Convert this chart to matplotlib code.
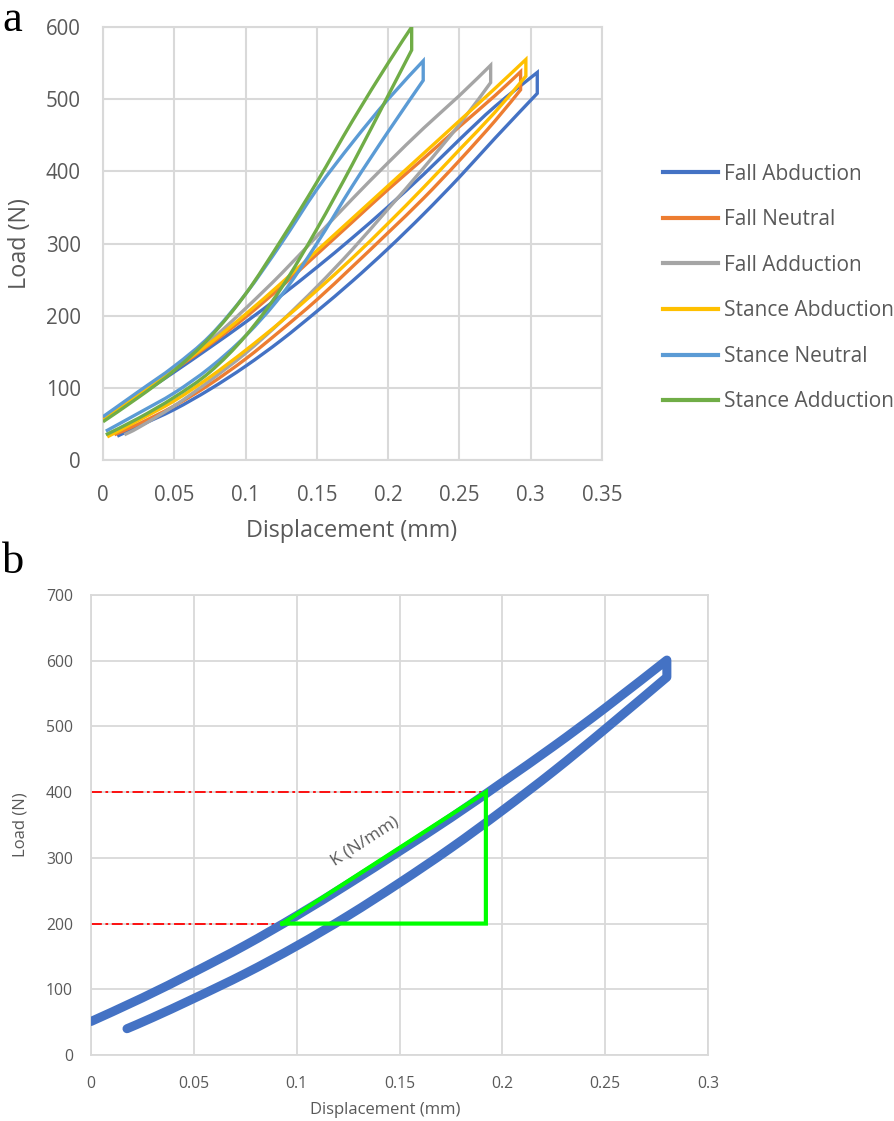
import matplotlib
matplotlib.use("Agg")
import matplotlib.pyplot as plt
from matplotlib.path import Path
from matplotlib.patches import PathPatch
from matplotlib.lines import Line2D

# ---------------- Panel a data (hysteresis loops: loading -> peak -> unloading) ----------------
series_names = ["Fall Abduction", "Fall Neutral", "Fall Adduction",
                "Stance Abduction", "Stance Neutral", "Stance Adduction"]
series_colors = ["#4472C4", "#ED7D31", "#A5A5A5", "#FFC000", "#5B9BD5", "#70AD47"]

fall_abd_x = [0.010, 0.025, 0.05, 0.075, 0.10, 0.125, 0.15, 0.175, 0.20, 0.225, 0.25, 0.275, 0.3046,
              0.3046, 0.275, 0.25, 0.225, 0.20, 0.175, 0.15, 0.125, 0.10, 0.075, 0.05, 0.025, 0.0]
fall_abd_y = [33, 47, 70, 98, 130, 166, 206, 248, 293, 341, 392, 446, 508,
              537, 490, 444, 396, 351, 308, 267, 228, 191, 156, 122, 89, 57]

fall_neu_x = [0.008, 0.025, 0.05, 0.075, 0.10, 0.125, 0.15, 0.175, 0.20, 0.225, 0.25, 0.275, 0.2929,
              0.2929, 0.275, 0.25, 0.225, 0.20, 0.175, 0.15, 0.125, 0.10, 0.075, 0.05, 0.025, 0.0]
fall_neu_y = [35, 50, 75, 105, 140, 180, 222, 268, 315, 363, 415, 470, 513,
              538, 505, 462, 418, 375, 330, 285, 240, 198, 160, 125, 90, 56]

fall_add_x = [0.015, 0.025, 0.05, 0.075, 0.10, 0.125, 0.15, 0.175, 0.20, 0.225, 0.25, 0.2719,
              0.2719, 0.25, 0.225, 0.20, 0.175, 0.15, 0.125, 0.10, 0.075, 0.05, 0.025, 0.0]
fall_add_y = [35, 45, 75, 110, 148, 192, 240, 292, 348, 405, 465, 523,
              547, 505, 460, 412, 362, 310, 258, 210, 165, 127, 90, 55]

stance_abd_x = [0.003, 0.025, 0.05, 0.075, 0.10, 0.125, 0.15, 0.175, 0.20, 0.225, 0.25, 0.275, 0.2966,
                0.2966, 0.275, 0.25, 0.225, 0.20, 0.175, 0.15, 0.125, 0.10, 0.075, 0.05, 0.025, 0.0]
stance_abd_y = [32, 55, 82, 115, 152, 192, 235, 280, 328, 378, 430, 482, 532,
                555, 515, 470, 425, 380, 335, 290, 245, 202, 162, 127, 92, 55]

stance_neu_x = [0.002, 0.025, 0.05, 0.075, 0.10, 0.125, 0.15, 0.175, 0.20, 0.2246,
                0.2246, 0.20, 0.175, 0.15, 0.125, 0.10, 0.075, 0.05, 0.025, 0.0]
stance_neu_y = [40, 65, 93, 128, 172, 228, 300, 380, 455, 526,
                553, 500, 440, 375, 300, 230, 172, 130, 95, 60]

stance_add_x = [0.002, 0.025, 0.05, 0.075, 0.10, 0.125, 0.15, 0.175, 0.20, 0.2165,
                0.2165, 0.20, 0.175, 0.15, 0.125, 0.10, 0.075, 0.05, 0.025, 0.0]
stance_add_y = [35, 58, 87, 122, 172, 238, 320, 410, 505, 568,
                600, 550, 470, 385, 305, 230, 170, 124, 87, 53]

a_xticks = [0, 0.05, 0.1, 0.15, 0.2, 0.25, 0.3, 0.35]
a_xticklabels = ["0", "0.05", "0.1", "0.15", "0.2", "0.25", "0.3", "0.35"]
a_yticks = [0, 100, 200, 300, 400, 500, 600]

# ---------------- Panel b data ----------------
b_x = [0.0175, 0.03, 0.05, 0.075, 0.10, 0.125, 0.15, 0.175, 0.20, 0.225, 0.25, 0.28,
       0.28, 0.25, 0.225, 0.20, 0.175, 0.15, 0.125, 0.10, 0.075, 0.05, 0.025, 0.0]
b_y = [40, 57, 86, 124, 166, 212, 262, 315, 372, 432, 496, 575,
       601, 528, 470, 415, 361, 310, 260, 212, 167, 126, 87, 51]

k_x = [0.093, 0.192, 0.192, 0.093]
k_y = [200, 400, 200, 200]
ref_loads = [200, 400]
ref_disp = [0.093, 0.192]

b_xticks = [0, 0.05, 0.1, 0.15, 0.2, 0.25, 0.3]
b_xticklabels = ["0", "0.05", "0.1", "0.15", "0.2", "0.25", "0.3"]
b_yticks = [0, 100, 200, 300, 400, 500, 600, 700]

TEXT = "#595959"
GRID = "#D9D9D9"


def smooth_segment(pts):
    """Excel-style smoothed line through the points (Catmull-Rom as cubic Bezier)."""
    verts, codes = [], []
    n = len(pts)
    for i in range(n - 1):
        p0 = pts[i - 1] if i > 0 else pts[i]
        p1 = pts[i]
        p2 = pts[i + 1]
        p3 = pts[i + 2] if i + 2 < n else pts[i + 1]
        c1 = (p1[0] + (p2[0] - p0[0]) / 6, p1[1] + (p2[1] - p0[1]) / 6)
        c2 = (p2[0] - (p3[0] - p1[0]) / 6, p2[1] - (p3[1] - p1[1]) / 6)
        verts += [c1, c2, p2]
        codes += [Path.CURVE4] * 3
    return verts, codes


def loop_path(xs, ys):
    pts = list(zip(xs, ys))
    split = next(i for i in range(len(xs) - 1) if xs[i] == xs[i + 1])
    lower = pts[:split + 1]
    upper = pts[split + 1:]
    verts, codes = [lower[0]], [Path.MOVETO]
    v, c = smooth_segment(lower)
    verts += v
    codes += c
    verts.append(upper[0])
    codes.append(Path.LINETO)
    v, c = smooth_segment(upper)
    verts += v
    codes += c
    return Path(verts, codes)


plt.rcParams["font.family"] = ["Open Sans", "DejaVu Sans"]

fig = plt.figure(figsize=(8.94, 11.21), dpi=100)

# ---------------- Panel a ----------------
axa = fig.add_axes([103/894, 1-460/1121, 499/894, 433/1121])
a_series = [(fall_abd_x, fall_abd_y), (fall_neu_x, fall_neu_y), (fall_add_x, fall_add_y),
            (stance_abd_x, stance_abd_y), (stance_neu_x, stance_neu_y), (stance_add_x, stance_add_y)]
handles = []
for (xs, ys), name, col in zip(a_series, series_names, series_colors):
    axa.add_patch(PathPatch(loop_path(xs, ys), fill=False, edgecolor=col, lw=2.4,
                            joinstyle="miter", capstyle="butt", zorder=3))
    handles.append(Line2D([], [], color=col, lw=3, label=name))

axa.set_xlim(0, 0.35)
axa.set_ylim(0, 600)
axa.set_xticks(a_xticks)
axa.set_xticklabels(a_xticklabels)
axa.set_yticks(a_yticks)
axa.grid(True, color=GRID, lw=1.5)
axa.set_axisbelow(True)
for s in axa.spines.values():
    s.set_color(GRID)
    s.set_linewidth(1.5)
axa.tick_params(length=0, labelsize=14.8, labelcolor=TEXT)
axa.tick_params(axis="y", pad=16)
axa.tick_params(axis="x", pad=18)
axa.set_xlabel("Displacement (mm)", fontsize=16.8, color=TEXT)
axa.xaxis.set_label_coords(0.499, -0.164)
axa.xaxis.label.set_verticalalignment("center")
axa.set_ylabel("Load (N)", fontsize=16.8, color=TEXT)
axa.yaxis.set_label_coords(-0.166, 0.5)
axa.yaxis.label.set_verticalalignment("center")

leg = axa.legend(handles=handles, loc="center left", bbox_to_anchor=(663/894, 1-288/1121),
                 bbox_transform=fig.transFigure, frameon=False, fontsize=15,
                 handlelength=2.65, handletextpad=0.27, labelspacing=1.18,
                 borderpad=0, borderaxespad=0)
for t in leg.get_texts():
    t.set_color(TEXT)

fig.text(2/894, 1-20/1121, "a", fontsize=32, family="Liberation Serif", va="center", ha="left")

# ---------------- Panel b ----------------
axb = fig.add_axes([91/894, 1-1055/1121, 617/894, 460/1121])
for yv, xv in zip(ref_loads, ref_disp):
    axb.plot([0, xv], [yv, yv], color="red", lw=1.3, ls=(0, (6, 2, 1.5, 2)), zorder=2)
axb.add_patch(PathPatch(loop_path(b_x, b_y), fill=False, edgecolor="#4472C4", lw=6.5,
                        capstyle="round", joinstyle="round", zorder=3))
axb.plot(k_x, k_y, color="#00FF00", lw=3, solid_joinstyle="miter", zorder=4)
axb.text(0.133, 325, "K (N/mm)", rotation=33, fontsize=12.5, color=TEXT,
         ha="center", va="center", rotation_mode="anchor", zorder=5)

axb.set_xlim(0, 0.3)
axb.set_ylim(0, 700)
axb.set_xticks(b_xticks)
axb.set_xticklabels(b_xticklabels)
axb.set_yticks(b_yticks)
axb.grid(True, color=GRID, lw=1.3)
axb.set_axisbelow(True)
for s in axb.spines.values():
    s.set_color(GRID)
    s.set_linewidth(1.3)
axb.tick_params(length=0, labelsize=11.3, labelcolor=TEXT)
axb.tick_params(axis="y", pad=13)
axb.tick_params(axis="x", pad=15)
axb.set_xlabel("Displacement (mm)", fontsize=12, color=TEXT)
axb.xaxis.set_label_coords(0.4765, -0.1196)
axb.xaxis.label.set_verticalalignment("center")
axb.set_ylabel("Load (N)", fontsize=12, color=TEXT)
axb.yaxis.set_label_coords(-0.115, 0.5)
axb.yaxis.label.set_verticalalignment("center")

fig.text(2/894, 1-562/1121, "b", fontsize=32, family="Liberation Serif", va="center", ha="left")

fig.savefig("out.png", dpi=100)
